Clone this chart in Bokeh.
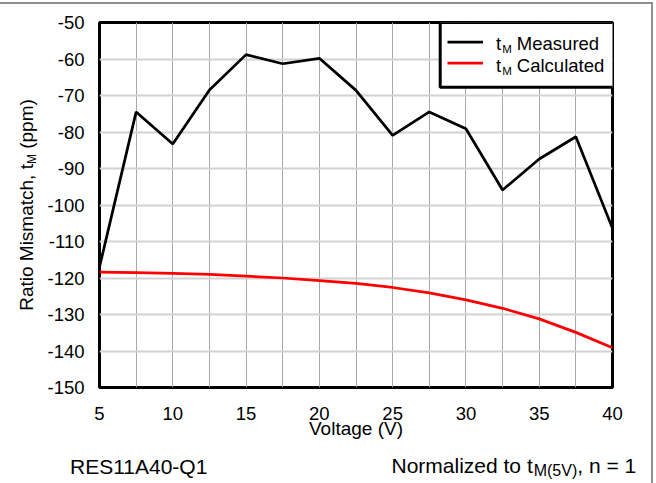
import math
from bokeh.plotting import figure
from bokeh.layouts import column, row
from bokeh.models import FixedTicker, Label, Legend, LegendItem, Range1d, BoxAnnotation
from bokeh.embed import file_html
from bokeh.resources import INLINE

# ---------------- data ----------------
voltage = [5, 7.5, 10, 12.5, 15, 17.5, 20, 22.5, 25, 27.5, 30, 32.5, 35, 37.5, 40]
measured = [-117.0, -74.5, -83.3, -68.5, -58.8, -61.3, -59.8, -68.6, -80.9,
            -74.5, -79.1, -95.9, -87.4, -81.3, -106.4]
calculated = [-118.4, -118.5, -118.7, -119.0, -119.5, -120.0, -120.7, -121.5,
              -122.6, -124.1, -126.0, -128.3, -131.2, -134.9, -139.1]

x_ticks = [5, 10, 15, 20, 25, 30, 35, 40]
x_tick_labels = ["5", "10", "15", "20", "25", "30", "35", "40"]
x_grid = [5, 7.5, 10, 12.5, 15, 17.5, 20, 22.5, 25, 27.5, 30, 32.5, 35, 37.5, 40]
y_ticks = [-150, -140, -130, -120, -110, -100, -90, -80, -70, -60, -50]
y_tick_labels = ["-150", "-140", "-130", "-120", "-110", "-100", "-90", "-80",
                 "-70", "-60", "-50"]

FONT = "Liberation Sans"

# ---------------- layout constants (page pixels) ----------------
PAGE_TOP = 4                  # margin + border above the layout
YL_W = 44                     # width of the y-label strip
MAIN_W, MAIN_H = 607, 442
FOOT_W, FOOT_H = 651, 37
MB_L, MB_R, MB_T, MB_B = 52, 39, 18, 59
K_BASE = 0.35                 # empirical baseline correction (fraction of font size)

MAIN_FL = YL_W + MB_L                       # main frame left on page
MAIN_FB = PAGE_TOP + MAIN_H - MB_B          # main frame bottom on page
MAIN_FT = PAGE_TOP + MB_T
MAIN_FR = YL_W + MAIN_W - MB_R
YL_FL, YL_FB = 0, MAIN_FB
FT_FL, FT_FB = 0, PAGE_TOP + MAIN_H + FOOT_H

p = figure(width=MAIN_W, height=MAIN_H, x_range=Range1d(5, 40),
           y_range=Range1d(-150, -50),
           output_backend="svg", toolbar_location=None,
           min_border_left=MB_L, min_border_right=MB_R,
           min_border_top=MB_T, min_border_bottom=MB_B,
           background_fill_color="white", border_fill_color="white")

p.outline_line_color = "black"
p.outline_line_width = 3
p.outline_line_alpha = 1.0

for ax in (p.xaxis[0], p.yaxis[0]):
    ax.axis_line_color = None
    ax.major_tick_line_color = None
    ax.minor_tick_line_color = None
    ax.major_label_text_font = FONT
    ax.major_label_text_font_size = "18.5px"
    ax.major_label_text_color = "black"

p.xaxis.ticker = FixedTicker(ticks=x_ticks)
p.xaxis.major_label_overrides = {t: l for t, l in zip(x_ticks, x_tick_labels)}
p.xaxis.major_label_standoff = 13
p.xaxis.axis_label = "Voltage (V)"
p.xaxis.axis_label_text_font = FONT
p.xaxis.axis_label_text_font_size = "19px"
p.xaxis.axis_label_text_font_style = "normal"
p.xaxis.axis_label_text_color = "black"
p.xaxis.axis_label_standoff = -5

p.yaxis.ticker = FixedTicker(ticks=y_ticks)
p.yaxis.major_label_overrides = {t: l for t, l in zip(y_ticks, y_tick_labels)}
p.yaxis.major_label_standoff = 9

p.xgrid.ticker = FixedTicker(ticks=x_grid)
p.xgrid.grid_line_color = "#a8a8a8"
p.xgrid.grid_line_width = 1
p.ygrid.ticker = FixedTicker(ticks=y_ticks)
p.ygrid.grid_line_color = "#d2d2d2"
p.ygrid.grid_line_width = 2

# legend box (white, black border) drawn under the data
p.add_layout(BoxAnnotation(left=436.7 - MAIN_FL, right=MAIN_FR - MAIN_FL,
                           top=MAIN_FB - MAIN_FT, bottom=MAIN_FB - 86.7,
                           left_units="screen", right_units="screen",
                           top_units="screen", bottom_units="screen",
                           fill_color="white", fill_alpha=1.0,
                           line_color="black", line_width=3, line_alpha=1.0,
                           level="underlay"))

r1 = p.line(voltage, measured, line_color="black", line_width=2.75)
r2 = p.line(voltage, calculated, line_color="#ff0000", line_width=2.75)

legend = Legend(items=[LegendItem(label=" ", renderers=[r1]),
                       LegendItem(label=" ", renderers=[r2])],
                location="top_right", margin=0, padding=9, spacing=0,
                glyph_width=36, glyph_height=21, label_height=21,
                label_width=110, label_standoff=10,
                label_text_font_size="10px",
                border_line_alpha=0, background_fill_alpha=0)
p.add_layout(legend)


def helper_fig(w, h, **kw):
    f = figure(width=w, height=h, x_range=Range1d(0, w), y_range=Range1d(0, h),
               output_backend="svg", toolbar_location=None,
               x_axis_location=None, y_axis_location=None,
               outline_line_color=None,
               background_fill_color="white", border_fill_color="white", **kw)
    f.grid.visible = False
    return f


yfig = helper_fig(YL_W, MAIN_H, min_border_left=0, min_border_right=0,
                  min_border_top=MB_T, min_border_bottom=MB_B)
foot = helper_fig(FOOT_W, FOOT_H, min_border=0)

# ---------------- rich text helpers (subscripts) ----------------
CW = {" ": 278, "(": 333, ")": 333, ",": 278, "-": 333, "=": 584, "A": 667,
      "C": 722, "E": 667, "M": 833, "N": 722, "Q": 778, "R": 722, "S": 667,
      "V": 667, "a": 556, "c": 500, "d": 556, "e": 556, "g": 556, "h": 556,
      "i": 222, "l": 222, "m": 833, "n": 556, "o": 556, "p": 556, "r": 333,
      "s": 500, "t": 278, "u": 556, "z": 500}


def tw(s, size):
    return sum(CW.get(c, 556) for c in s) * size / 1000.0


def place(fig, fl, fb, x, y, pieces, angle=0.0, align="left"):
    """x, y: page pixel of the start point on the baseline; fl/fb: frame left/bottom on page.
    pieces: (text, font size, baseline shift downwards, gap before)."""
    if align == "center":
        total = sum(tw(t, s) + g for t, s, _, g in pieces)
        if angle:
            y += total / 2
        else:
            x -= total / 2
    cur = 0.0
    for text, size, shift, gap in pieces:
        cur += gap
        if angle:
            sx, sy = x + shift - K_BASE * size - fl, fb - (y - cur)
        else:
            sx, sy = x + cur - fl, fb - (y + shift) + K_BASE * size
        fig.add_layout(Label(x=sx, y=sy, x_units="screen", y_units="screen",
                             text=text, angle=angle, text_font=FONT,
                             text_font_size=f"{size}px", text_color="black",
                             text_align="left", text_baseline="alphabetic"))
        cur += tw(text, size)


SP18 = tw(" ", 18.5)
SP19 = tw(" ", 19)

# legend texts
place(p, MAIN_FL, MAIN_FB, 492.5, 49.5,
      [("t", 18.5, 0, 0), ("M", 11.5, 3, 1), ("Measured", 18.5, 0, SP18)])
place(p, MAIN_FL, MAIN_FB, 492.5, 71.5,
      [("t", 18.5, 0, 0), ("M", 11.5, 3, 1), ("Calculated", 18.5, 0, SP18)])

# y axis label
place(yfig, YL_FL, YL_FB, 33, 204.5,
      [("Ratio Mismatch, t", 19, 0, 0), ("M", 12, 3, 0), ("(ppm)", 19, 0, SP19)],
      angle=math.pi / 2, align="center")

# footer texts
place(foot, FT_FL, FT_FB, 69.5, 473, [("RES11A40-Q1", 21, 0, 0)])
place(foot, FT_FL, FT_FB, 391, 472,
      [("Normalized to t", 21, 0, 0), ("M(5V)", 16, 3.5, 1), (", n = 1", 21, 0, 0)])

layout = column(row(yfig, p), foot)
layout.styles = {"margin-top": "2px", "border-top": "2px solid #8f8f8f",
                 "border-right": "2px solid #8f8f8f"}

open("out.html", "w").write(file_html(layout, INLINE))
